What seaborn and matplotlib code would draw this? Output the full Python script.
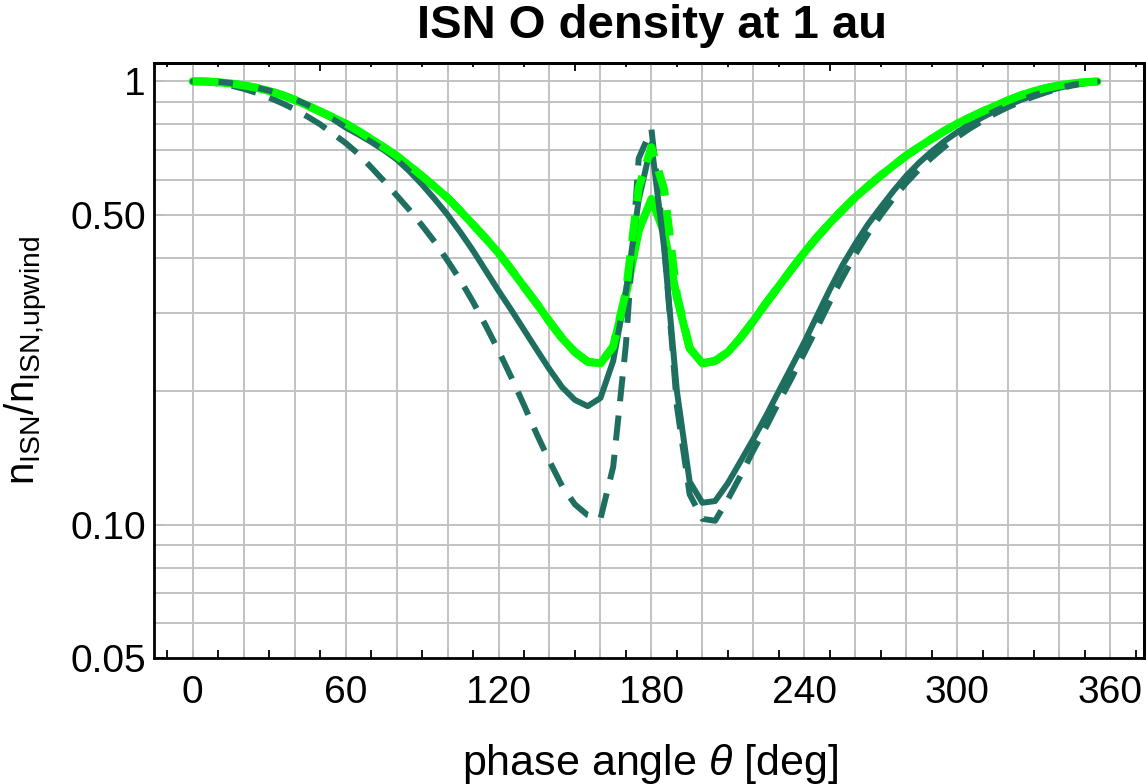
import numpy as np
import pandas as pd
import matplotlib
matplotlib.use("Agg")
import matplotlib.pyplot as plt
import seaborn as sns
from matplotlib.ticker import FixedLocator, MultipleLocator, NullFormatter, FixedFormatter

# ---------------- data ----------------
phase = list(range(0, 360, 5))  # 0 .. 355 deg

green_solid = [1.000, 0.999, 0.995, 0.989, 0.979, 0.967, 0.951, 0.932, 0.908, 0.882,
               0.855, 0.829, 0.803, 0.772, 0.741, 0.710, 0.679, 0.645, 0.611, 0.578,
               0.546, 0.510, 0.475, 0.442, 0.410, 0.376, 0.344, 0.315, 0.287, 0.263,
               0.245, 0.233, 0.231, 0.252, 0.330, 0.460, 0.543, 0.455, 0.325, 0.250,
               0.231, 0.234, 0.245, 0.264, 0.288, 0.316, 0.345, 0.377, 0.411, 0.445,
               0.479, 0.513, 0.548, 0.580, 0.613, 0.646, 0.680, 0.711, 0.742, 0.773,
               0.803, 0.829, 0.855, 0.881, 0.906, 0.930, 0.950, 0.966, 0.979, 0.989,
               0.995, 0.999]

green_dashed = [1.000, 0.999, 0.995, 0.989, 0.979, 0.967, 0.951, 0.932, 0.908, 0.882,
                0.855, 0.829, 0.803, 0.772, 0.741, 0.710, 0.679, 0.645, 0.611, 0.578,
                0.546, 0.510, 0.475, 0.442, 0.410, 0.376, 0.344, 0.315, 0.287, 0.263,
                0.245, 0.233, 0.231, 0.252, 0.335, 0.575, 0.710, 0.570, 0.330, 0.250,
                0.231, 0.234, 0.245, 0.264, 0.288, 0.316, 0.345, 0.377, 0.411, 0.445,
                0.479, 0.513, 0.548, 0.580, 0.613, 0.646, 0.680, 0.711, 0.742, 0.773,
                0.803, 0.829, 0.855, 0.881, 0.906, 0.930, 0.950, 0.966, 0.979, 0.989,
                0.995, 0.999]

teal_solid = [1.000, 1.000, 0.998, 0.991, 0.982, 0.968, 0.953, 0.933, 0.912, 0.885,
              0.855, 0.822, 0.787, 0.759, 0.730, 0.700, 0.667, 0.627, 0.585, 0.542,
              0.500, 0.457, 0.415, 0.374, 0.337, 0.305, 0.275, 0.248, 0.224, 0.204,
              0.191, 0.185, 0.193, 0.234, 0.335, 0.540, 0.722, 0.420, 0.200, 0.125,
              0.112, 0.113, 0.124, 0.139, 0.156, 0.176, 0.200, 0.227, 0.258, 0.296,
              0.339, 0.385, 0.430, 0.476, 0.520, 0.566, 0.612, 0.655, 0.695, 0.733,
              0.768, 0.800, 0.830, 0.858, 0.884, 0.908, 0.930, 0.950, 0.967, 0.981,
              0.992, 0.999]

teal_dashed = [1.000, 0.997, 0.989, 0.978, 0.962, 0.942, 0.919, 0.893, 0.865, 0.833,
               0.800, 0.762, 0.726, 0.686, 0.640, 0.596, 0.553, 0.513, 0.473, 0.434,
               0.394, 0.356, 0.318, 0.281, 0.247, 0.215, 0.186, 0.160, 0.139, 0.122,
               0.111, 0.105, 0.103, 0.135, 0.255, 0.670, 0.780, 0.430, 0.185, 0.117,
               0.103, 0.102, 0.114, 0.129, 0.147, 0.166, 0.189, 0.214, 0.244, 0.278,
               0.318, 0.361, 0.407, 0.453, 0.499, 0.545, 0.590, 0.633, 0.673, 0.712,
               0.749, 0.783, 0.815, 0.847, 0.875, 0.900, 0.924, 0.945, 0.963, 0.978,
               0.990, 0.999]

xtick_values = [0, 60, 120, 180, 240, 300, 360]
xtick_labels = ["0", "60", "120", "180", "240", "300", "360"]
top_major_ticks = [0, 50, 100, 150, 200, 250, 300, 350]
ytick_values = [0.05, 0.10, 0.50, 1.0]
ytick_labels = ["0.05", "0.10", "0.50", "1"]
ytick_minor = [0.06, 0.07, 0.08, 0.09, 0.2, 0.3, 0.4, 0.6, 0.7, 0.8, 0.9]
grid_x = list(range(0, 361, 20))
grid_y = [0.06, 0.07, 0.08, 0.09, 0.1, 0.2, 0.3, 0.4, 0.5, 0.6, 0.7, 0.8, 0.9, 1.0]

title = "ISN O density at 1 au"
xlabel = r"phase angle $\theta$ [deg]"
ylabel = r"$\mathregular{n_{ISN}/n_{ISN{,}upwind}}$"

# ---------------- style ----------------
sns.set_style("white")
plt.rcParams["font.family"] = ["Liberation Sans", "DejaVu Sans"]
plt.rcParams["mathtext.fontset"] = "custom"
plt.rcParams["mathtext.rm"] = "Liberation Sans"
plt.rcParams["mathtext.it"] = "Liberation Sans:italic"
plt.rcParams["mathtext.bf"] = "Liberation Sans:bold"
for k in ["text.color", "axes.labelcolor", "xtick.color", "ytick.color", "axes.edgecolor"]:
    plt.rcParams[k] = "black"

GREEN = "#00ff00"
TEAL = "#1f6f61"
GRID = "#c2c2c2"

W, H = 1148, 784
fig = plt.figure(figsize=(W / 100, H / 100), dpi=100)
ax = fig.add_axes([154 / W, 1 - 658 / H, (1144 - 154) / W, (658 - 63) / H])

df = pd.DataFrame({"phase": phase, "gs": green_solid, "gd": green_dashed,
                   "ts": teal_solid, "td": teal_dashed})

sns.lineplot(data=df, x="phase", y="gs", ax=ax, color=GREEN, lw=5.8,
             estimator=None, zorder=3)
sns.lineplot(data=df, x="phase", y="ts", ax=ax, color=TEAL, lw=4.3,
             estimator=None, zorder=4)
sns.lineplot(data=df, x="phase", y="td", ax=ax, color=TEAL, lw=4.3,
             linestyle=(0, (4.2, 2.4)), estimator=None, zorder=5)
sns.lineplot(data=df, x="phase", y="gd", ax=ax, color=GREEN, lw=5.8,
             linestyle=(0, (3.2, 1.8)), estimator=None, zorder=6)

ax.set_yscale("log")
ax.set_xlim(-15.2, 373.3)
ax.set_ylim(0.05, 1.10)

for gx in grid_x:
    ax.axvline(gx, color=GRID, lw=1.4, zorder=1)
for gy in grid_y:
    ax.axhline(gy, color=GRID, lw=1.4, zorder=1)

ax.set_xlabel("")
ax.set_ylabel("")

ax.xaxis.set_major_locator(FixedLocator(xtick_values))
ax.xaxis.set_major_formatter(FixedFormatter(xtick_labels))
ax.xaxis.set_minor_locator(MultipleLocator(10))
ax.xaxis.set_minor_formatter(NullFormatter())
ax.yaxis.set_major_locator(FixedLocator(ytick_values))
ax.yaxis.set_major_formatter(FixedFormatter(ytick_labels))
ax.yaxis.set_minor_locator(FixedLocator(ytick_minor))
ax.yaxis.set_minor_formatter(NullFormatter())

ax.tick_params(axis="x", which="both", direction="in", bottom=True, top=False,
               length=6, width=1.3, color="black", labelcolor="black",
               labelsize=28, pad=12)
ax.tick_params(axis="y", which="major", direction="in", left=True, right=False,
               length=8, width=1.3, color="black", labelcolor="black",
               labelsize=28, pad=6)
ax.tick_params(axis="y", which="minor", direction="in", left=True, right=False,
               length=2.5, width=1.3, color="black")

for s in ax.spines.values():
    s.set_color("black")
    s.set_linewidth(2.0)

top = ax.secondary_xaxis("top")
top.xaxis.set_major_locator(FixedLocator(top_major_ticks))
top.xaxis.set_major_formatter(NullFormatter())
top.xaxis.set_minor_locator(MultipleLocator(10))
top.tick_params(which="major", direction="in", length=5.5, width=1.3, color="black")
top.tick_params(which="minor", direction="in", length=3, width=1.3, color="black")
top.spines["top"].set_linewidth(2.0)
top.spines["top"].set_color("black")

right = ax.secondary_yaxis("right")
right.yaxis.set_major_locator(FixedLocator(ytick_values))
right.yaxis.set_major_formatter(NullFormatter())
right.yaxis.set_minor_locator(FixedLocator(ytick_minor))
right.yaxis.set_minor_formatter(NullFormatter())
right.tick_params(which="major", direction="in", length=6, width=1.3, color="black")
right.tick_params(which="minor", direction="in", length=3.5, width=1.3, color="black")
right.spines["right"].set_linewidth(2.0)
right.spines["right"].set_color("black")

fig.text(652 / W, 1 - 38 / H, title, ha="center", va="baseline",
         fontsize=34, fontweight="bold", family=["Liberation Sans", "DejaVu Sans"],
         color="black")
fig.text(650 / W, 1 - 775 / H, xlabel, ha="center", va="baseline", fontsize=31,
         color="black")
fig.text(27 / W, 1 - 360 / H, ylabel, ha="center", va="center", rotation=90,
         fontsize=29, color="black")

fig.savefig("out.png", dpi=100)
